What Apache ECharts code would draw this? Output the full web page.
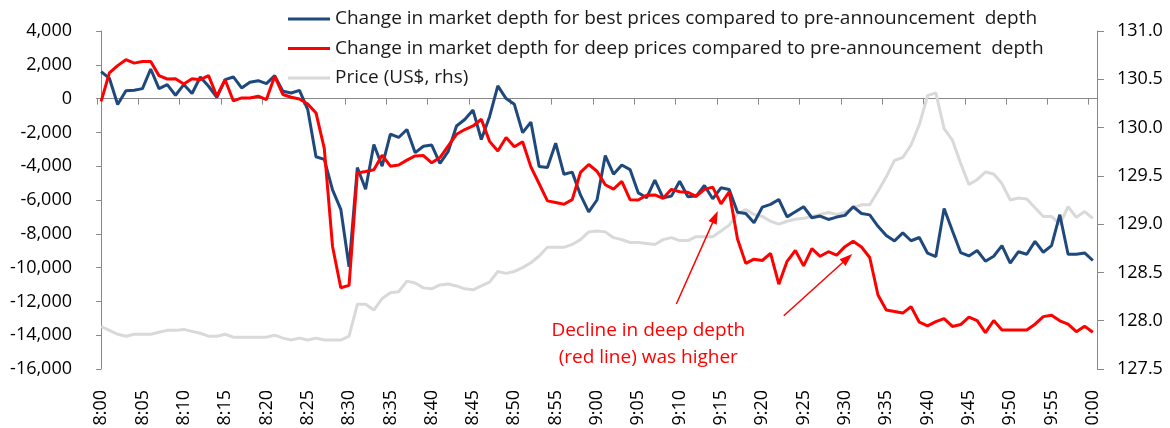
<!DOCTYPE html>
<html>
<head>
<meta charset="utf-8">
<script src="https://cdn.jsdelivr.net/npm/echarts@6/dist/echarts.min.js"></script>
<style>
html,body{margin:0;padding:0;background:#fff;}
#chart{width:1170px;height:428px;}
</style>
</head>
<body>
<div id="chart"></div>
<script>
// x categories: one per minute, 8:00 -> 10:00
var TIME_LABELS=[];
for(var m=0;m<=120;m++){
    var h=8+Math.floor(m/60), mm=m%60;
    TIME_LABELS.push(h+":"+(mm<10?"0"+mm:mm));
}

// change in depth, best prices (lhs)
var BEST_DEPTH=[1600,1200,-350,470,490,590,1750,590,830,200,
830,300,1280,730,80,1120,1280,630,970,1060,
890,1360,430,330,490,-650,-3440,-3600,-5400,-6550,
-9950,-4080,-5360,-2720,-4000,-2100,-2300,-1830,-3200,-2820,
-2750,-3830,-3120,-1620,-1240,-680,-2420,-1070,750,0,
-340,-2010,-1390,-4020,-4080,-2640,-4480,-4350,-5700,-6700,
-6000,-3370,-4470,-3930,-4200,-5580,-5870,-4830,-5870,-5770,
-4890,-5810,-5770,-5140,-5930,-5280,-5380,-6720,-6800,-7350,
-6420,-6260,-5970,-7000,-6700,-6400,-7050,-6950,-7150,-7010,
-6910,-6400,-6800,-6880,-7560,-8100,-8420,-7950,-8410,-8220,
-9150,-9350,-6500,-7820,-9110,-9310,-8990,-9620,-9330,-8700,
-9730,-9060,-9210,-8450,-9090,-8700,-6870,-9210,-9210,-9130,
-9580];

// change in depth, deep prices (lhs)
var DEEP_DEPTH=[-160,1520,1950,2300,2100,2190,2190,1360,1160,1180,
870,1180,1120,1360,140,1120,-140,40,40,140,
-60,1320,240,80,-20,-320,-850,-2950,-8750,-11190,
-11050,-4400,-4310,-4210,-3350,-4000,-3930,-3640,-3390,-3370,
-3800,-3490,-2800,-2110,-1830,-1620,-1220,-2530,-3100,-2300,
-2850,-2550,-4040,-5040,-6050,-6150,-6250,-5980,-4370,-3900,
-4300,-5100,-5360,-4900,-5980,-6000,-5720,-5700,-5900,-5370,
-5510,-5540,-5780,-5370,-5240,-6230,-5510,-8310,-9750,-9500,
-9580,-9160,-10980,-9630,-8990,-9900,-8880,-9330,-9060,-9260,
-8760,-8440,-8780,-9400,-11620,-12510,-12600,-12690,-12310,-13230,
-13450,-13200,-13020,-13480,-13370,-12930,-13140,-13850,-13130,-13690,
-13690,-13690,-13690,-13350,-12900,-12820,-13150,-13350,-13790,-13470,
-13820];

// price US$ (rhs)
var PRICE=[127.94,127.90,127.86,127.84,127.86,127.86,127.86,127.88,127.90,127.90,
127.91,127.89,127.87,127.84,127.84,127.86,127.83,127.83,127.83,127.83,
127.83,127.85,127.82,127.80,127.82,127.80,127.82,127.80,127.80,127.80,
127.84,128.17,128.17,128.11,128.23,128.29,128.30,128.41,128.39,128.34,
128.33,128.37,128.38,128.36,128.33,128.32,128.36,128.40,128.51,128.49,
128.51,128.55,128.60,128.67,128.76,128.76,128.76,128.79,128.84,128.92,
128.93,128.92,128.86,128.84,128.81,128.81,128.80,128.79,128.84,128.86,
128.83,128.83,128.87,128.87,128.87,128.93,128.99,129.11,129.15,129.10,
129.08,129.03,129.00,129.03,129.05,129.06,129.08,129.10,129.12,129.10,
129.12,129.17,129.20,129.20,129.34,129.49,129.66,129.69,129.82,130.03,
130.33,130.36,129.99,129.87,129.63,129.41,129.46,129.54,129.52,129.42,
129.25,129.27,129.26,129.17,129.08,129.08,129.00,129.18,129.07,129.13,
129.06];

var SERIES_NAMES=[
    "Change in market depth for best prices compared to pre-announcement  depth",
    "Change in market depth for deep prices compared to pre-announcement  depth",
    "Price (US$, rhs)"
];
var LEFT_AXIS=[-16000,4000,2000];   // min, max, step
var RIGHT_AXIS=[127.5,131,0.5];
var NOTE_TEXT="Decline in deep depth\n(red line) was higher";
var NOTE_POS=[66.2,-14550];
// arrows, in (minute index, lhs value)
var ARROW_1=[[69.6,-12150],[74.3,-7000]];
var ARROW_2=[[82.6,-12850],[90.3,-9450]];

var AXIS_GREY="#888888";
var FONT="'Open Sans', sans-serif";

var myChart=echarts.init(document.querySelector("#chart"));

var option={
    animation:false,
    textStyle:{fontFamily:FONT},
    grid:{left:97,right:73,top:31,bottom:59,outerBoundsMode:'none',containLabel:false},
    legend:{
        orient:'vertical',
        left:283,
        top:3,
        itemGap:7.5,
        itemWidth:42,
        itemHeight:3,
        icon:'rect',
        data:SERIES_NAMES,
        textStyle:{fontFamily:FONT,fontSize:19,color:'#1a1a1a',lineHeight:22}
    },
    xAxis:[
        {   // labels at the bottom
            type:'category',
            data:TIME_LABELS,
            boundaryGap:true,
            position:'bottom',
            axisLine:{show:false,onZero:false},
            axisTick:{show:false},
            axisLabel:{rotate:90,interval:4,margin:21,fontSize:18,color:'#000',fontFamily:FONT}
        },
        {   // axis line crossing at zero
            type:'category',
            data:TIME_LABELS,
            boundaryGap:true,
            position:'top',
            axisLine:{show:true,onZero:true,onZeroAxisIndex:0,lineStyle:{color:AXIS_GREY,width:1}},
            axisTick:{show:true,inside:true,interval:4,length:6,lineStyle:{color:AXIS_GREY}},
            axisLabel:{show:false}
        },
        {   // hidden helper for annotations
            type:'value',
            min:-0.5,
            max:120.5,
            show:false
        }
    ],
    yAxis:[
        {
            type:'value',
            min:LEFT_AXIS[0],max:LEFT_AXIS[1],interval:LEFT_AXIS[2],
            position:'left',
            splitLine:{show:false},
            axisLine:{show:true,lineStyle:{color:AXIS_GREY}},
            axisTick:{show:true,length:5,lineStyle:{color:AXIS_GREY}},
            axisLabel:{margin:25,fontSize:18,color:'#000',fontFamily:FONT,
                formatter:function(v){return v.toLocaleString('en-US');}}
        },
        {
            type:'value',
            min:RIGHT_AXIS[0],max:RIGHT_AXIS[1],interval:RIGHT_AXIS[2],
            position:'right',
            splitLine:{show:false},
            axisLine:{show:true,lineStyle:{color:AXIS_GREY}},
            axisTick:{show:true,length:7,lineStyle:{color:AXIS_GREY}},
            axisLabel:{margin:20,fontSize:18,color:'#000',fontFamily:FONT,
                formatter:function(v){return v.toFixed(1);}}
        }
    ],
    series:[
        {
            name:SERIES_NAMES[2],
            type:'line',
            xAxisIndex:0,yAxisIndex:1,
            data:PRICE,
            symbol:'none',
            z:1,
            itemStyle:{color:'#d9d9d9'},
            lineStyle:{color:'#d9d9d9',width:3}
        },
        {
            name:SERIES_NAMES[0],
            type:'line',
            xAxisIndex:0,yAxisIndex:0,
            data:BEST_DEPTH,
            symbol:'none',
            z:3,
            itemStyle:{color:'#1f497d'},
            lineStyle:{color:'#1f497d',width:3}
        },
        {
            name:SERIES_NAMES[1],
            type:'line',
            xAxisIndex:0,yAxisIndex:0,
            data:DEEP_DEPTH,
            symbol:'none',
            z:4,
            itemStyle:{color:'#ff0000'},
            lineStyle:{color:'#ff0000',width:3}
        },
        {
            name:'notes',
            type:'line',
            xAxisIndex:2,yAxisIndex:0,
            data:[],
            silent:true,
            z:5,
            markLine:{
                silent:true,
                symbol:['none','triangle'],
                symbolSize:[9,13],
                label:{show:false},
                lineStyle:{color:'#ff0000',width:1.5,type:'solid'},
                data:[
                    [{coord:ARROW_1[0]},{coord:ARROW_1[1]}],
                    [{coord:ARROW_2[0]},{coord:ARROW_2[1]}]
                ]
            },
            markPoint:{
                silent:true,
                symbol:'circle',
                symbolSize:0,
                label:{show:true,formatter:NOTE_TEXT,color:'#ff0000',fontSize:19,lineHeight:27,
                    fontFamily:FONT,align:'center',verticalAlign:'middle'},
                data:[{coord:NOTE_POS}]
            }
        }
    ]
};
myChart.setOption(option);
</script>
</body>
</html>
